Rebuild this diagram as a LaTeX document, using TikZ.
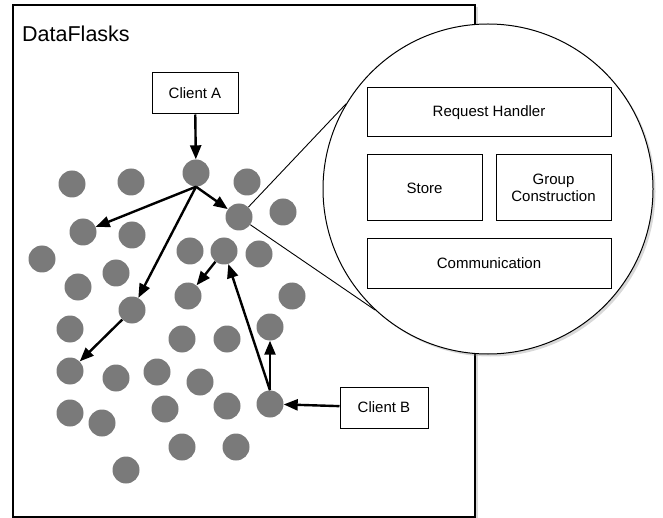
\documentclass[tikz,border=0pt]{standalone}
\usepackage{fontspec}
\setmainfont{Liberation Sans}
\usetikzlibrary{arrows.meta,shadows}
\definecolor{dotgray}{RGB}{122,122,122}
\pgfdeclarelayer{back}
\pgfdeclarelayer{mid}
\pgfsetlayers{back,mid,main}
\begin{document}
\begin{tikzpicture}[x=1pt,y=-1pt,
  dot/.style={circle,fill=dotgray,inner sep=0pt,minimum size=27pt},
  box/.style={draw,line width=1pt,fill=white,font=\fontsize{15}{17}\selectfont,align=center,inner sep=0pt},
  arr/.style={line width=2.4pt,-{Triangle[length=14pt,width=11pt]}},
  thinline/.style={line width=0.9pt},
  shad/.style={drop shadow={shadow xshift=2.5pt,shadow yshift=-2.5pt,opacity=0.3}}
]
\useasboundingbox (0,0) rectangle (663,518);

\begin{pgfonlayer}{back}
\node[draw,line width=1.1pt,fill=white,shad,minimum width=462pt,minimum height=512pt,inner sep=0pt] (frame) at (244,261) {};
\node[anchor=base west,inner sep=0pt,font=\fontsize{21.5}{24}\selectfont] (title) at (22,41.7) {DataFlasks};
\end{pgfonlayer}

% zoom circle
\node[circle,draw,line width=1pt,fill=white,shad,minimum size=330pt,inner sep=0pt] (zoomc) at (488,189) {};
\node[box,minimum width=244pt,minimum height=49pt] (rh) at (489,112.5) {Request Handler};
\node[box,minimum width=115pt,minimum height=66pt] (st) at (424.5,188) {Store};
\node[box,minimum width=115pt,minimum height=66pt] (gc) at (553.5,188) {Group\\Construction};
\node[box,minimum width=244pt,minimum height=49pt] (co) at (489,263.5) {Communication};

% dots
\node[dot] (a1) at (72,184) {};
\node[dot] (a2) at (131,182) {};
\node[dot] (t) at (196,173) {};
\node[dot] (a4) at (247,182) {};
\node[dot] (h) at (239,217) {};
\node[dot] (a6) at (283,212) {};
\node[dot] (b1) at (83,232) {};
\node[dot] (b2) at (132,235) {};
\node[dot] (c1) at (42,259) {};
\node[dot] (c2) at (190,251) {};
\node[dot] (c3) at (224,251) {};
\node[dot] (c4) at (259,254) {};
\node[dot] (d1) at (116,273) {};
\node[dot] (d2) at (78,287) {};
\node[dot] (d3) at (188,296) {};
\node[dot] (d4) at (292,296) {};
\node[dot] (m) at (132,310) {};
\node[dot] (e1) at (70,329) {};
\node[dot] (e2) at (182,339) {};
\node[dot] (e3) at (227,339) {};
\node[dot] (e4) at (270,327) {};
\node[dot] (f1) at (70,371) {};
\node[dot] (f2) at (116,378) {};
\node[dot] (f3) at (157,372) {};
\node[dot] (f4) at (200,382) {};
\node[dot] (g1) at (70,413) {};
\node[dot] (g2) at (102,423) {};
\node[dot] (g3) at (165,409) {};
\node[dot] (g4) at (227,406) {};
\node[dot] (cb) at (270,404) {};
\node[dot] (k1) at (182,447) {};
\node[dot] (k2) at (236,447) {};
\node[dot] (l1) at (126,470) {};

\begin{pgfonlayer}{mid}
\draw[thinline] (h) -- (zoomc.149);
\draw[thinline] (h) -- (zoomc.227);
\end{pgfonlayer}

% clients
\node[box,minimum width=86pt,minimum height=41pt] (ca) at (195,93.5) {Client A};
\node[box,minimum width=88pt,minimum height=41pt] (cbox) at (384,407.5) {Client B};

% arrows
\draw[arr] (ca) -- (t);
\draw[arr] (t.south) -- (b1);
\draw[arr] (t.south) -- (h);
\draw[arr] (t.south) -- (m);
\draw[arr] (m) -- (f1);
\draw[arr] (c3) -- (d3);
\draw[arr] (cb.north) -- (c3);
\draw[arr] (cb.north) -- (e4);
\draw[arr] (cbox) -- (cb);
\end{tikzpicture}
\end{document}
